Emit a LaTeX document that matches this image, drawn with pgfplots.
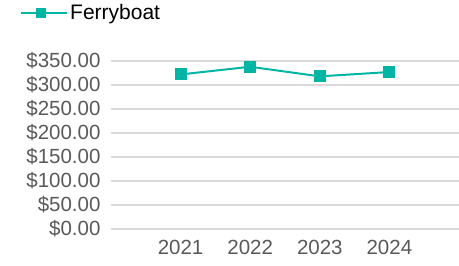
\documentclass[border=0pt]{standalone}
\usepackage{pgfplots}
\pgfplotsset{compat=1.18}
\usepackage{fontspec}
\setmainfont{Liberation Sans}
\definecolor{teal1}{HTML}{00B5A3}
\definecolor{gridc}{HTML}{D9D9D9}
\definecolor{lab}{HTML}{595959}
\begin{document}
\begin{tikzpicture}
\useasboundingbox (0,0) rectangle (459bp,266bp);
\begin{axis}[
  at={(111bp,37bp)}, anchor=south west,
  scale only axis, width=348bp, height=168bp,
  xmin=-1, xmax=4, ymin=0, ymax=350,
  axis line style={draw=none},
  xtick={0,1,2,3}, xticklabels={2021,2022,2023,2024},
  ytick={0,50,100,150,200,250,300,350},
  yticklabels={\$0.00,\$50.00,\$100.00,\$150.00,\$200.00,\$250.00,\$300.00,\$350.00},
  major tick length=0pt,
  ymajorgrids, grid style={gridc, line width=2bp},
  tick label style={font=\fontsize{20.5bp}{22bp}\selectfont, text=lab},
  yticklabel style={xshift=-7bp},
  xticklabel style={yshift=-8bp},
  legend style={at={(-0.27,1.285)}, anchor=west, draw=none, fill=none,
    font=\fontsize{21bp}{23bp}\selectfont, legend cell align=left},
  legend image code/.code={
    \path (0bp,0bp) -- (46bp,0bp);
    \draw[teal1, line width=2bp] (0bp,0bp) -- (40bp,0bp);
    \fill[teal1] (16bp,-4bp) rectangle (24bp,4bp);
  },
]
\addplot[teal1, line width=2bp, mark=square*, mark size=5bp, mark options={solid, fill=teal1}]
  coordinates {(0,322) (1,338) (2,318) (3,327)};
\addlegendentry{Ferryboat}
\end{axis}
\end{tikzpicture}
\end{document}
